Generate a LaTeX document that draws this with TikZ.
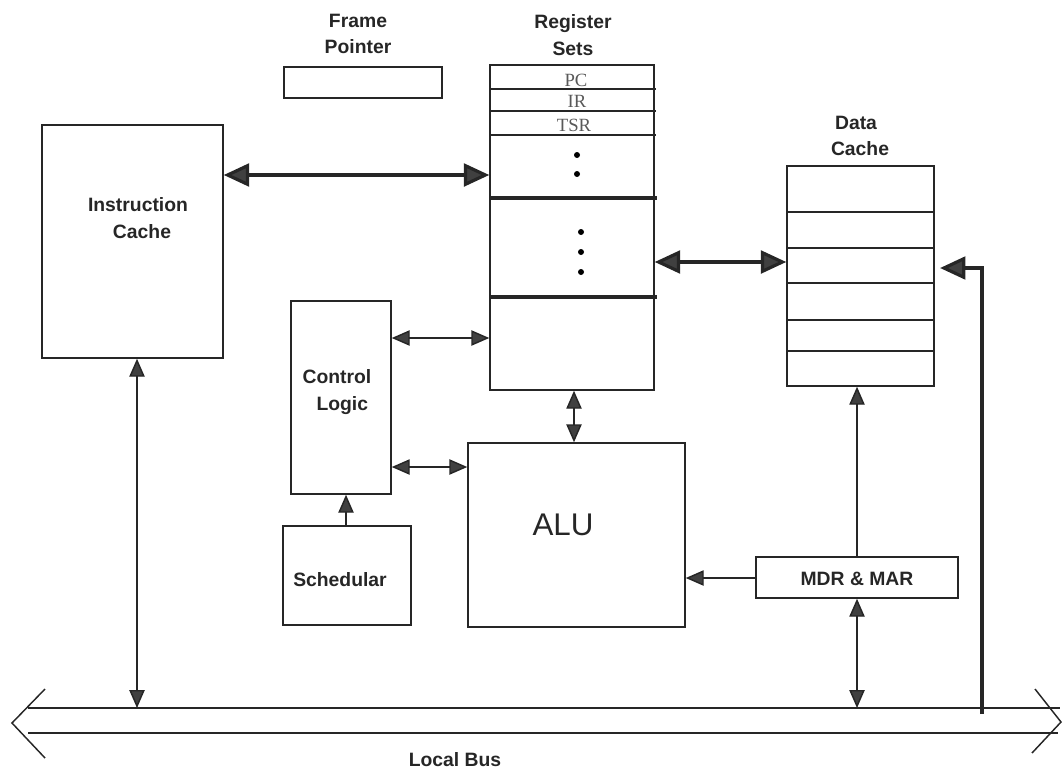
\documentclass[tikz,border=0pt]{standalone}
\usepackage{fontspec}
\setmainfont{Liberation Sans}
\newfontfamily\regfont{Liberation Serif}
\usetikzlibrary{arrows.meta,fit}

\tikzset{
  box/.style={draw=black!85, line width=1.1pt, inner sep=0pt, fill=none},
  lbl/.style={font=\bfseries\fontsize{14.5}{20}\selectfont, text=black!85, align=center, inner sep=0pt},
  reglbl/.style={font=\regfont\fontsize{14}{16}\selectfont, text=black!65, inner sep=0pt},
  sep/.style={line width=1.1pt, draw=black!85},
  thicksep/.style={line width=2.4pt, draw=black!85},
  bigtip/.tip={Triangle[length=19pt,width=17pt,fill=black!75]},
  smalltip/.tip={Triangle[length=13.5pt,width=11.5pt,fill=black!75]},
  thickarr/.style={line width=2.4pt, draw=black!85, {bigtip}-{bigtip}},
  thinarr/.style={line width=1.1pt, draw=black!85, {smalltip}-{smalltip}},
  onearr/.style={line width=1.1pt, draw=black!85, -{smalltip}},
  busline/.style={line width=1.1pt, draw=black!85},
  dot/.style={circle, fill=black, inner sep=0pt, minimum size=4.5pt}
}

\begin{document}
\begin{tikzpicture}[x=0.75pt,y=-0.75pt]
\useasboundingbox (0,0) rectangle (1062,771);

% blocks
\node[box, fit={(284,67) (442,98)}] (fp) {};
\node[box, fit={(490,65) (654,390)}] (reg) {};
\node[box, fit={(42,125) (223,358)}] (ic) {};
\node[box, fit={(787,166) (934,386)}] (dc) {};
\node[box, fit={(291,301) (391,494)}] (cl) {};
\node[box, fit={(283,526) (411,625)}] (sch) {};
\node[box, fit={(468,443) (685,627)}] (alu) {};
\node[box, fit={(756,557) (958,598)}] (mm) {};

% captions
\node[lbl] (fpt) at (358,34) {Frame\\Pointer};
\node[lbl] (regt) at (573,35) {Register\\Sets};
\node[lbl] (dct) at (856,136) {Data\\\hspace*{6pt}Cache};
\node[lbl] (ict) at (138,218) {Instruction\\\hspace*{6pt}Cache};
\node[lbl] (clt) at (337,392) {Control\\\hspace*{8pt}Logic};
\node[lbl] (scht) at (340,580) {Schedular};
\node[font=\fontsize{23.5}{25}\selectfont, text=black!85, inner sep=0pt] (alut) at (563,525) {ALU};
\node[lbl] (mmt) at (857,579) {MDR \& MAR};
\node[lbl] (bust) at (455,760) {Local Bus};

% register set rows
\draw[sep] (reg.west |- 0,89) -- ([xshift=1pt]reg.east |- 0,89);
\draw[sep] (reg.west |- 0,111) -- ([xshift=1pt]reg.east |- 0,111);
\draw[sep] (reg.west |- 0,135) -- ([xshift=1pt]reg.east |- 0,135);
\draw[thicksep] (reg.west |- 0,198) -- ([xshift=2pt]reg.east |- 0,198);
\draw[thicksep] (reg.west |- 0,297) -- ([xshift=2pt]reg.east |- 0,297);
\node[reglbl] (pc) at (576,80) {PC};
\node[reglbl] (ir) at (577,101) {IR};
\node[reglbl] (tsr) at (574,125) {TSR};
\node[dot] (d1) at (577,155) {};
\node[dot] (d2) at (577,174) {};
\node[dot] (d3) at (581,232) {};
\node[dot] (d4) at (581,252) {};
\node[dot] (d5) at (581,272) {};

% data cache rows
\foreach \yy in {212,248,283,320,351}
  \draw[sep] (dc.west |- 0,\yy) -- (dc.east |- 0,\yy);

% local bus
\coordinate (bl) at (12,723);
\coordinate (br) at (1061,722);
\draw[busline] (28,708) -- (1060,708);
\draw[busline] (28,733) -- (1058,733);
\draw[busline] (45,689) -- (bl) -- (45,758);
\draw[busline] (1035,689) -- (br) -- (1032,753);
\coordinate (tap) at (982,714);
\coordinate (ictap) at (137,708);
\coordinate (mmtap) at (857,708);

% connectors
\draw[thickarr] (ic.east |- 0,175) -- (reg.west |- 0,175);
\draw[thickarr] (reg.east |- 0,262) -- (dc.west |- 0,262);
\draw[thinarr] (cl.east |- 0,338) -- (reg.west |- 0,338);
\draw[thinarr] (cl.east |- 0,467) -- (alu.west |- 0,467);
\draw[thinarr] (reg.south -| 574,0) -- (alu.north -| 574,0);
\draw[onearr] (sch.north -| 346,0) -- (cl.south -| 346,0);
\draw[onearr] (mm.west |- 0,578) -- (alu.east |- 0,578);
\draw[onearr] (mm.north -| 857,0) -- (dc.south -| 857,0);
\draw[thinarr] (mm.south -| 857,0) -- (mmtap);
\draw[thinarr] (ic.south -| 137,0) -- (ictap);
\draw[line width=2.4pt, draw=black!85, -{bigtip}] (tap) |- ([xshift=4pt]dc.east |- 0,268);

\end{tikzpicture}
\end{document}
